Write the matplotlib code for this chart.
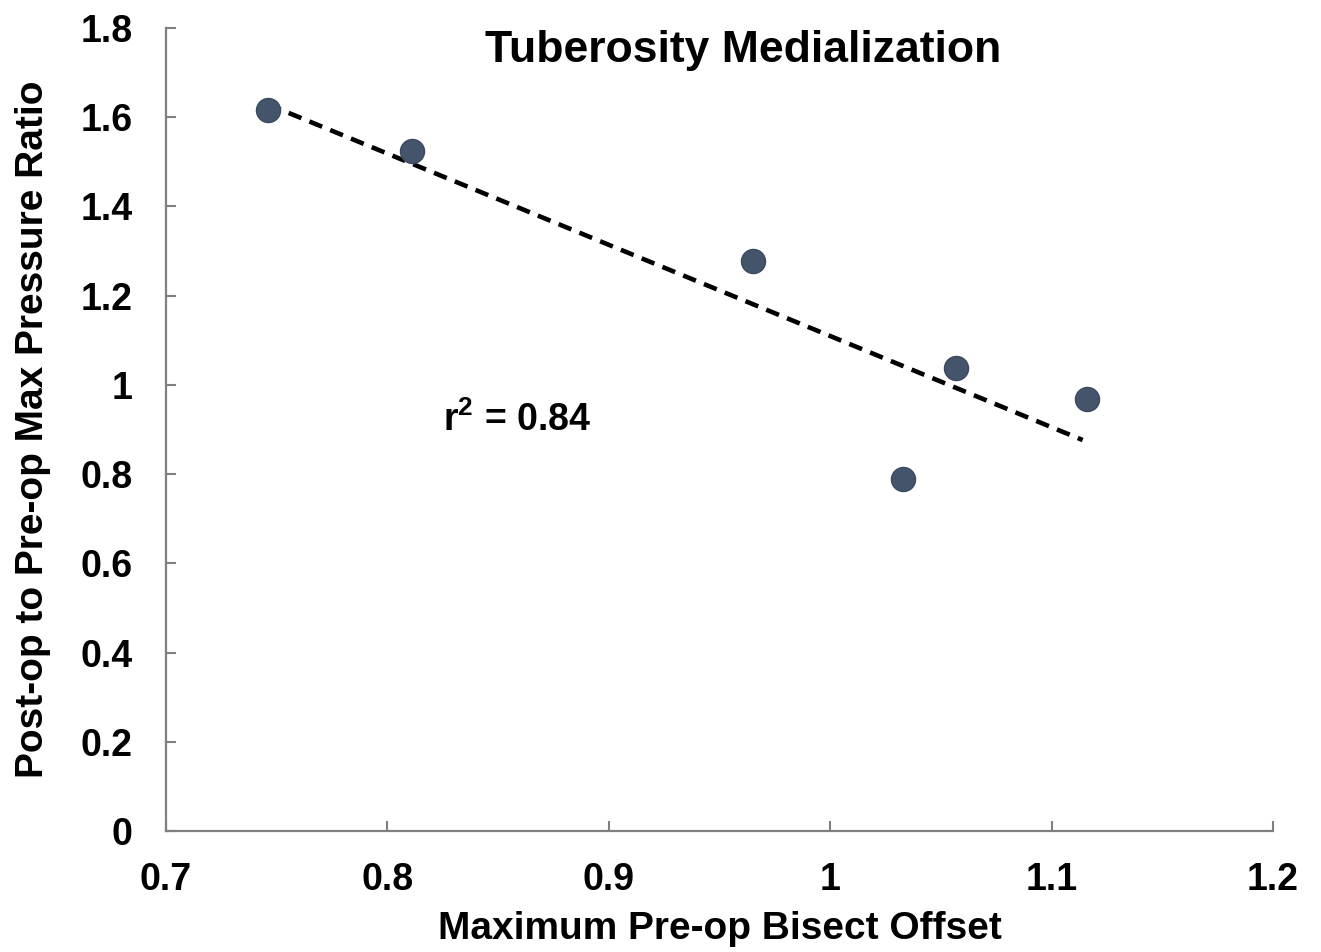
import matplotlib
matplotlib.use("Agg")
import matplotlib.pyplot as plt
import numpy as np

x_offset = [0.746, 0.811, 0.965, 1.057, 1.033, 1.116]
pressure_ratio = [1.616, 1.524, 1.277, 1.037, 0.790, 0.969]
x_ticks = [0.7, 0.8, 0.9, 1.0, 1.1, 1.2]
x_tick_labels = ["0.7", "0.8", "0.9", "1", "1.1", "1.2"]
y_ticks = [0, 0.2, 0.4, 0.6, 0.8, 1.0, 1.2, 1.4, 1.6, 1.8]
y_tick_labels = ["0", "0.2", "0.4", "0.6", "0.8", "1", "1.2", "1.4", "1.6", "1.8"]
title = "Tuberosity Medialization"
x_label = "Maximum Pre-op Bisect Offset"
y_label = "Post-op to Pre-op Max Pressure Ratio"
r2_text = "r$^2$ = 0.84"

plt.rcParams['font.family'] = ['Liberation Sans', 'DejaVu Sans']
plt.rcParams['font.weight'] = 'bold'
plt.rcParams['mathtext.default'] = 'regular'

fig = plt.figure(figsize=(13.21, 9.52), dpi=100)
ax = fig.add_axes([0.1257, 0.1271, 0.838, 0.8435])

xs = np.array(x_offset)
ys = np.array(pressure_ratio)
slope, intercept = np.polyfit(xs, ys, 1)
xl = np.array([xs.min(), 1.114])
ax.plot(xl, slope * xl + intercept, linestyle=(0, (3.0, 1.9)), color='black', lw=3.3, zorder=2)
ax.scatter(xs, ys, s=300, color='#44546a', edgecolors='#3a4a60', linewidths=1, zorder=3)

ax.set_xlim(0.7, 1.2)
ax.set_ylim(0, 1.8)
ax.set_xticks(x_ticks)
ax.set_xticklabels(x_tick_labels)
ax.set_yticks(y_ticks)
ax.set_yticklabels(y_tick_labels)
for s in ['top', 'right']:
    ax.spines[s].set_visible(False)
for s in ['left', 'bottom']:
    ax.spines[s].set_color('#808080')
    ax.spines[s].set_linewidth(1.6)
ax.tick_params(axis='x', direction='in', length=7, width=1.5, color='#808080',
               labelsize=27, pad=22)
ax.tick_params(axis='y', direction='in', length=7, width=1.5, color='#808080',
               labelsize=27, pad=24)
for lab in ax.get_xticklabels() + ax.get_yticklabels():
    lab.set_fontweight('bold')

ax.set_xlabel(x_label, fontsize=28, fontweight='bold', labelpad=10)
ax.set_ylabel(y_label, fontsize=28, fontweight='bold', labelpad=21)
ax.text(0.521, 0.998, title, transform=ax.transAxes, ha='center', va='top',
        fontsize=32, fontweight='bold')
ax.text(0.825, 0.92, r2_text, ha='left', va='center', fontsize=27, fontweight='bold')

fig.savefig("out.png", dpi=100)
